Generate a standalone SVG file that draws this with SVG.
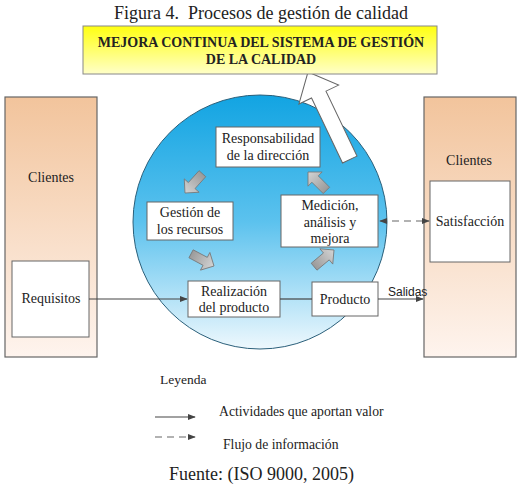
<svg xmlns="http://www.w3.org/2000/svg" width="518" height="495" viewBox="0 0 518 495">
<defs>
<linearGradient id="gYellow" x1="0" y1="0" x2="0" y2="1"><stop offset="0" stop-color="#ffff10"/><stop offset="1" stop-color="#ffffc8"/></linearGradient>
<linearGradient id="gOrange" x1="0" y1="0" x2="0" y2="1"><stop offset="0" stop-color="#f2c49c"/><stop offset="1" stop-color="#fef4ee"/></linearGradient>
<linearGradient id="gBlue" x1="0" y1="0" x2="0" y2="1"><stop offset="0" stop-color="#12a4e2"/><stop offset="0.5" stop-color="#5cc2ee"/><stop offset="1" stop-color="#eef8fd"/></linearGradient>
<linearGradient id="gGray" x1="0" y1="0" x2="1" y2="0"><stop offset="0" stop-color="#d4d4d4"/><stop offset="1" stop-color="#9a9a9a"/></linearGradient>
<marker id="ah" viewBox="0 0 10 10" refX="9" refY="5" markerWidth="8" markerHeight="8" orient="auto-start-reverse" markerUnits="userSpaceOnUse"><path d="M0,1 L10,5 L0,9 Z" fill="#444"/></marker>
</defs>
<style>
.t{font-family:"Liberation Serif","Times New Roman",serif;fill:#222;}
.n{font-size:14px;text-anchor:middle;}
.box{fill:#fff;stroke:#666;stroke-width:1;}
.col{fill:url(#gOrange);stroke:#666;stroke-width:1.2;}
.ln{stroke:#444;stroke-width:1.2;fill:none;}
.dash{stroke:#666;stroke-width:1.2;fill:none;stroke-dasharray:7,5;}
.blk{fill:url(#gGray);stroke:#777;stroke-width:0.8;}
</style>
<text class="t" x="261" y="19" font-size="18" text-anchor="middle" xml:space="preserve">Figura 4.  Procesos de gestión de calidad</text>

<g id="clientes-left">
<rect class="col" x="5" y="97" width="92" height="260"/>
<text class="t n" x="51" y="182">Clientes</text>
</g>
<g id="clientes-right">
<rect class="col" x="424" y="97" width="92" height="260"/>
<text class="t n" x="469" y="165">Clientes</text>
</g>

<g id="circulo">
<circle cx="260" cy="222" r="127" fill="url(#gBlue)" stroke="#2a5f7a" stroke-width="1"/>
</g>

<g id="flecha-mejora">
<polygon points="0,0 22,25 8,25 8,97 -8,97 -8,25 -22,25" fill="#fff" stroke="#666" stroke-width="1" transform="translate(308,72) rotate(-25.5)"/>
</g>

<g id="mejora-continua">
<rect x="83" y="26" width="354" height="48" fill="url(#gYellow)" stroke="#888" stroke-width="1"/>
<text class="t" x="261" y="47" font-size="14" font-weight="bold" text-anchor="middle">MEJORA CONTINUA DEL SISTEMA DE GESTIÓN</text>
<text class="t" x="261" y="64" font-size="14" font-weight="bold" text-anchor="middle">DE LA CALIDAD</text>
</g>

<g id="requisitos">
<rect class="box" x="12" y="261" width="77" height="76"/>
<text class="t n" x="51" y="303">Requisitos</text>
</g>
<g id="satisfaccion">
<rect class="box" x="430" y="181" width="80" height="81"/>
<text class="t n" x="470" y="226">Satisfacción</text>
</g>
<g id="responsabilidad">
<rect class="box" x="216" y="127" width="104" height="40"/>
<text class="t n" x="268" y="143">Responsabilidad</text>
<text class="t n" x="268" y="160">de la dirección</text>
</g>
<g id="gestion-recursos">
<rect class="box" x="147" y="202" width="86" height="38"/>
<text class="t n" x="190" y="217">Gestión de</text>
<text class="t n" x="190" y="234">los recursos</text>
</g>
<g id="medicion">
<rect class="box" x="281" y="195" width="97" height="52"/>
<text class="t n" x="330" y="210">Medición,</text>
<text class="t n" x="330" y="227">análisis y</text>
<text class="t n" x="330" y="243">mejora</text>
</g>
<g id="realizacion">
<rect class="box" x="188" y="281" width="92" height="36"/>
<text class="t n" x="234" y="296">Realización</text>
<text class="t n" x="234" y="312">del producto</text>
</g>
<g id="producto">
<rect class="box" x="312" y="282" width="66" height="34"/>
<text class="t n" x="345" y="304">Producto</text>
</g>

<g id="conectores">
<line class="ln" x1="89" y1="299" x2="187" y2="299" marker-end="url(#ah)"/>
<line class="ln" x1="280" y1="299" x2="312" y2="299"/>
<line class="ln" x1="378" y1="299" x2="423" y2="299" marker-end="url(#ah)"/>
<line class="dash" x1="380" y1="221" x2="429" y2="221" marker-start="url(#ah)" marker-end="url(#ah)"/>
<text x="388" y="296" font-family="'Liberation Sans',Arial,sans-serif" font-size="12" fill="#222">Salidas</text>
<g id="bloques">
<polygon class="blk" points="0,0 10,-10 10,-4.5 26,-4.5 26,4.5 10,4.5 10,10" transform="translate(185,193) rotate(-48)"/>
<polygon class="blk" points="0,0 10,-10 10,-4.5 26,-4.5 26,4.5 10,4.5 10,10" transform="translate(214,266) rotate(-152)"/>
<polygon class="blk" points="0,0 10,-10 10,-4.5 26,-4.5 26,4.5 10,4.5 10,10" transform="translate(334,250) rotate(140)"/>
<polygon class="blk" points="0,0 10,-10 10,-4.5 26,-4.5 26,4.5 10,4.5 10,10" transform="translate(308,172) rotate(45)"/>
</g>
</g>

<g id="leyenda">
<text class="t" x="160" y="384" font-size="13.5">Leyenda</text>
<line class="ln" x1="155" y1="417" x2="195" y2="417" marker-end="url(#ah)"/>
<text class="t" x="219" y="416" font-size="13.7">Actividades que aportan valor</text>
<line class="dash" x1="155" y1="437" x2="195" y2="437" marker-end="url(#ah)"/>
<text class="t" x="223" y="449" font-size="13.7">Flujo de información</text>
</g>
<text class="t" x="169" y="480" font-size="18">Fuente: (ISO 9000, 2005)</text>
</svg>
